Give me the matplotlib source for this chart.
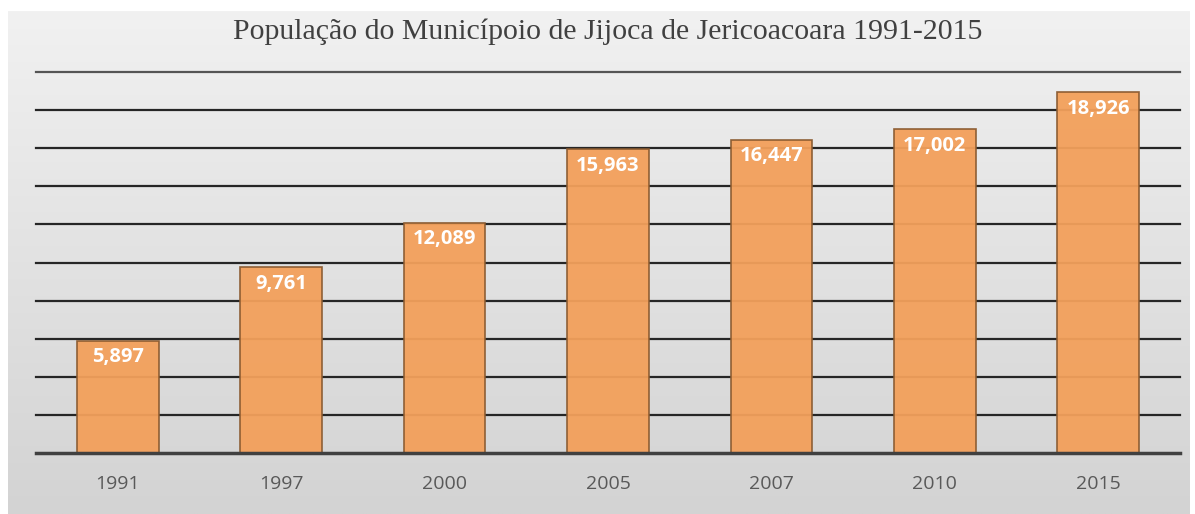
import numpy as np
import matplotlib.pyplot as plt
from matplotlib.colors import LinearSegmentedColormap

years = ["1991", "1997", "2000", "2005", "2007", "2010", "2015"]
population = [5897, 9761, 12089, 15963, 16447, 17002, 18926]
title = "População do Municípoio de Jijoca de Jericoacoara 1991-2015"

W, H = 1195, 514
fig = plt.figure(figsize=(W / 100, H / 100), dpi=100)
fig.patch.set_facecolor("white")

# gray gradient panel behind the chart
bg = fig.add_axes([8 / W, 0, (1190 - 8) / W, (H - 11) / H], zorder=0)
gray = LinearSegmentedColormap.from_list("bg", ["#f1f1f1", "#d3d3d3"])
grad = np.linspace(0, 1, 256)[:, None] * np.ones((1, 16))
bg.imshow(grad, cmap=gray, aspect="auto", extent=[0, 1, 0, 1], origin="upper")
bg.set_axis_off()

ax = fig.add_axes([36 / W, (H - 453) / H, (1180 - 36) / W, (453 - 72) / H],
                  zorder=1)
ax.patch.set_alpha(0)

x = np.arange(len(years))
ax.set_ylim(0, 20000)
ax.set_xlim(-0.5, len(years) - 0.5)
for yv in range(2000, 20001, 2000):
    ax.axhline(yv, color="#262626" if yv < 20000 else "#555555", lw=1.6,
               zorder=1, clip_on=False)

bars = ax.bar(x, population, width=0.5, color="#f3a05b",
              edgecolor="#8a5a30", linewidth=1.2, zorder=2, alpha=0.95)
ax.axhline(0, color="#404040", lw=2.5, zorder=3, clip_on=False)
for xi, v in zip(x, population):
    ax.annotate(f"{v:,}", (xi, v), xytext=(0, -12), textcoords="offset points",
                ha="center", va="center", color="white", fontsize=14.5,
                fontweight="bold", family="Open Sans", zorder=4)

ax.set_xticks(x)
ax.set_xticklabels(years, fontsize=14, color="#595959", family="Open Sans")
ax.tick_params(axis="x", length=0, pad=16)
ax.set_yticks([])
for s in ax.spines.values():
    s.set_visible(False)

fig.text(608 / W, 1 - 32 / H, title, ha="center", va="center",
         fontsize=21.5, family="Liberation Serif", color="#404040")

fig.savefig("out.png", dpi=100)
